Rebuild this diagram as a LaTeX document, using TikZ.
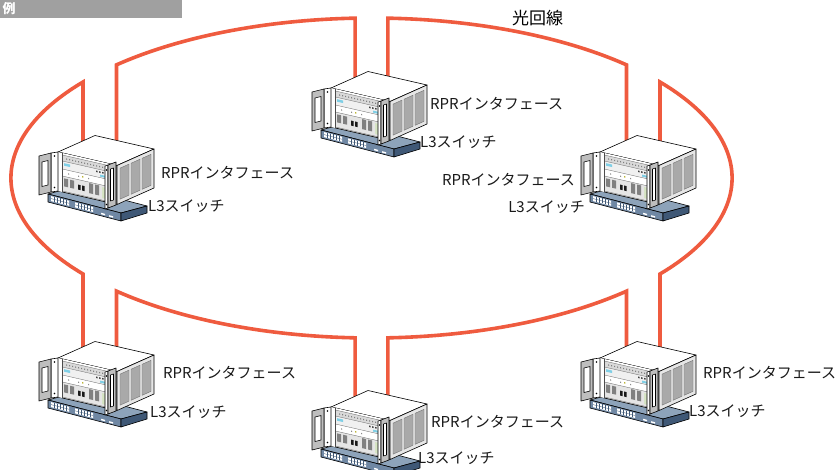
\documentclass[tikz,border=0pt]{standalone}
\usepackage{fontspec}
\newfontfamily\jpfont{Noto Sans CJK JP}
\definecolor{ringred}{HTML}{EF5B3F}
\definecolor{swtop}{HTML}{8DA3BA}
\definecolor{swfront}{HTML}{7088A4}
\definecolor{swside}{HTML}{3F5876}
\definecolor{chfront}{HTML}{D6D6D6}
\definecolor{chside}{HTML}{E6E6E6}
\definecolor{ventc}{HTML}{A9A9A9}
\definecolor{earg}{HTML}{BEBEBE}
\definecolor{hdrgray}{HTML}{A0A0A0}
\definecolor{cyanled}{HTML}{7FCFE6}
\definecolor{modgreen}{HTML}{D6E4C4}
\tikzset{
  ol/.style={draw=black,line width=0.6pt,line join=round},
  ventbox/.style={draw=black!55,line width=0.4pt,fill=ventc},
  device/.pic={
    \coordinate (-pl) at (25,0);
    \coordinate (-pr) at (58,0);
    % switch
    \filldraw[ol,fill=swtop] (-10,42) -- (16,35) -- (89,54) -- (63,61) -- cycle;
    \filldraw[ol,fill=swfront] (-10,42) -- (63,61) -- (63,69) -- (-10,50) -- cycle;
    \filldraw[ol,fill=swside] (63,61) -- (89,54) -- (89,61) -- (63,69) -- cycle;
    \begin{scope}[xshift=-10pt,yshift=-42pt,yslant=-0.26]
      \foreach \bx in {3,27} {
        \fill[white] (\bx,1.3) rectangle ++(18,5);
        \foreach \i in {1,...,5} \draw[swside,line width=0.3pt] (\bx+3*\i,1.3) -- ++(0,5);
        \draw[swside,line width=0.3pt] (\bx,3.8) -- ++(18,0);
      }
      \fill[white] (53,5) rectangle ++(4,1.5);
      \fill[white] (61,5.3) rectangle ++(4,1.5);
    \end{scope}
    % chassis
    \filldraw[ol,fill=white] (0,0) -- (37,-16.5) -- (96,-3) -- (59,13.5) -- cycle;
    \filldraw[ol,fill=chfront] (0,0) -- (59,13.5) -- (59,52.5) -- (0,39) -- cycle;
    \filldraw[ol,fill=chside] (59,13.5) -- (96,-3) -- (96,36) -- (59,52.5) -- cycle;
    \begin{scope}[xshift=59pt,yshift=-13.5pt,yslant=0.446]
      \foreach \w in {3,14,25} \filldraw[ventbox] (\w,4) rectangle ++(9,31);
    \end{scope}
    \begin{scope}[yslant=-0.2288]
      \fill[white] (0,0) rectangle (4,39);
      \fill[white] (4,0) rectangle (55,2);
      \fill[black!15] (4,2) rectangle (55,8);
      \foreach \d in {8,11,...,50} \fill[black!50] (\d,4.5) rectangle ++(1.2,1.2);
      \fill[black!6] (4,8) rectangle (55,16);
      \fill[cyanled] (6,9.8) rectangle (12,12.3);
      \foreach \d in {38,41,...,50} \fill[black!75] (\d,9.8) rectangle ++(1.5,1.5);
      \fill[cyanled] (42,13) rectangle (49,15);
      \fill[white] (4,16) rectangle (55,23);
      \foreach \d in {10,20,30} \fill[black!45] (\d,19) rectangle ++(1.2,1.2);
      \fill[yellow!70!black] (24,18.5) rectangle ++(1.4,1.4);
      \fill[black!10] (4,23) rectangle (55,38);
      \fill[black!50] (6,25) rectangle (10,33);
      \fill[black!50] (12,25) rectangle (16,33);
      \fill[black!90] (20,28) rectangle (22.5,33);
      \fill[black!90] (24,28) rectangle (26.5,33);
      \fill[black!50] (31,24) rectangle (35,34);
      \fill[black!50] (37,24) rectangle (41,34);
      \fill[modgreen] (44,25) rectangle (52,36);
      \foreach \s in {2,8,16,23,38} \draw[black!60,line width=0.3pt] (4,\s) -- (55,\s);
      \draw[black!70,line width=0.4pt] (4,0) -- (4,39);
      \draw[black!70,line width=0.4pt] (55,0) -- (55,39);
    \end{scope}
    % left ear
    \filldraw[ol,fill=white] (-7,1) -- (0,0) -- (0,39) -- (-7,40) -- cycle;
    \filldraw[ol,fill=earg] (-19,4) -- (-7,1) -- (-7,40) -- (-19,43) -- cycle;
    \filldraw[ol,fill=white] (-16,10) -- (-10,8.5) -- (-10,33) -- (-16,34.5) -- cycle;
    \fill (-3.5,4) circle (0.9);
    \fill (-3.5,35.5) circle (0.9);
    % right ear
    \filldraw[ol,fill=white] (47,14) -- (50,13) -- (50,56) -- (47,57) -- cycle;
    \filldraw[ol,fill=earg] (50,13) -- (58,10) -- (58,53) -- (50,56) -- cycle;
    \filldraw[ol,fill=white] (52.5,17) -- (55.5,16) -- (55.5,48) -- (52.5,49) -- cycle;
    \fill (48.5,18) circle (0.8);
    \fill (48.5,52.5) circle (0.8);
  }
}
\begin{document}
\begin{tikzpicture}[x=1pt,y=-1pt,
  ring/.style={draw=ringred,line width=3.6pt,line join=miter},
  lbl/.style={font=\jpfont\fontsize{15}{15}\selectfont,inner sep=0pt,text=black!90},
]
\useasboundingbox (0,0) rectangle (837,470);
% header
\node[fill=hdrgray,minimum width=182pt,minimum height=18pt,anchor=north west,inner sep=0pt] (hdr) at (0,0) {};
\node[font=\jpfont\bfseries\fontsize{13}{13}\selectfont,text=white,inner sep=0pt] (hdrtxt) at (9,9) {例};
% ellipse joint points
\coordinate (eA1) at (355.14,18.16);
\coordinate (eA2) at (116.52,64.86);
\coordinate (eB1) at (83.02,82);
\coordinate (eB2) at (83.02,274);
\coordinate (eC1) at (116.52,291.14);
\coordinate (eC2) at (355.14,337.84);
\coordinate (eD1) at (387.86,337.84);
\coordinate (eD2) at (626.48,291.14);
\coordinate (eE1) at (659.98,274);
\coordinate (eE2) at (659.98,82);
\coordinate (eF1) at (626.48,64.86);
\coordinate (eF2) at (387.86,18.16);
% device anchors
\coordinate (p1) at (331,88);
\coordinate (p2) at (58,152);
\coordinate (p3) at (600,152);
\coordinate (p4) at (58,358);
\coordinate (p5) at (331,407);
\coordinate (p6) at (600,358);
% ring
\draw[ring] (eA1 |- p1) -- (eA1) arc[start angle=92.6,end angle=135,x radius=360.6pt,y radius=160pt] -- (eA2 |- p2);
\draw[ring] (eB1 |- p2) -- (eB1) arc[start angle=143.13,end angle=216.87,x radius=360.6pt,y radius=160pt] -- (eB2 |- p4);
\draw[ring] (eC1 |- p4) -- (eC1) arc[start angle=225,end angle=267.4,x radius=360.6pt,y radius=160pt] -- (eC2 |- p5);
\draw[ring] (eD1 |- p5) -- (eD1) arc[start angle=272.6,end angle=315,x radius=360.6pt,y radius=160pt] -- (eD2 |- p6);
\draw[ring] (eE1 |- p6) -- (eE1) arc[start angle=323.13,end angle=396.87,x radius=360.6pt,y radius=160pt] -- (eE2 |- p3);
\draw[ring] (eF1 |- p3) -- (eF1) arc[start angle=45,end angle=87.4,x radius=360.6pt,y radius=160pt] -- (eF2 |- p1);
% devices
\pic (d1) at (p1) {device};
\pic (d2) at (p2) {device};
\pic (d3) at (p3) {device};
\pic (d4) at (p4) {device};
\pic (d5) at (p5) {device};
\pic (d6) at (p6) {device};
% labels
\node[font=\jpfont\fontsize{17}{17}\selectfont,inner sep=0pt] (fiber) at (537.5,18) {光回線};
\node[lbl,anchor=west] (r1) at (430,104) {RPRインタフェース};
\node[lbl,anchor=west] (s1) at (420,142) {L3スイッチ};
\node[lbl,anchor=west] (r2) at (161,173) {RPRインタフェース};
\node[lbl,anchor=west] (s2) at (148,206) {L3スイッチ};
\node[lbl,anchor=east] (r3) at (575,180) {RPRインタフェース};
\node[lbl,anchor=east] (s3) at (585,207) {L3スイッチ};
\node[lbl,anchor=west] (r4) at (163,373) {RPRインタフェース};
\node[lbl,anchor=west] (s4) at (150,412) {L3スイッチ};
\node[lbl,anchor=west] (r5) at (431,422) {RPRインタフェース};
\node[lbl,anchor=west] (s5) at (418,458) {L3スイッチ};
\node[lbl,anchor=west] (r6) at (703,373) {RPRインタフェース};
\node[lbl,anchor=west] (s6) at (689,411) {L3スイッチ};
\end{tikzpicture}
\end{document}
